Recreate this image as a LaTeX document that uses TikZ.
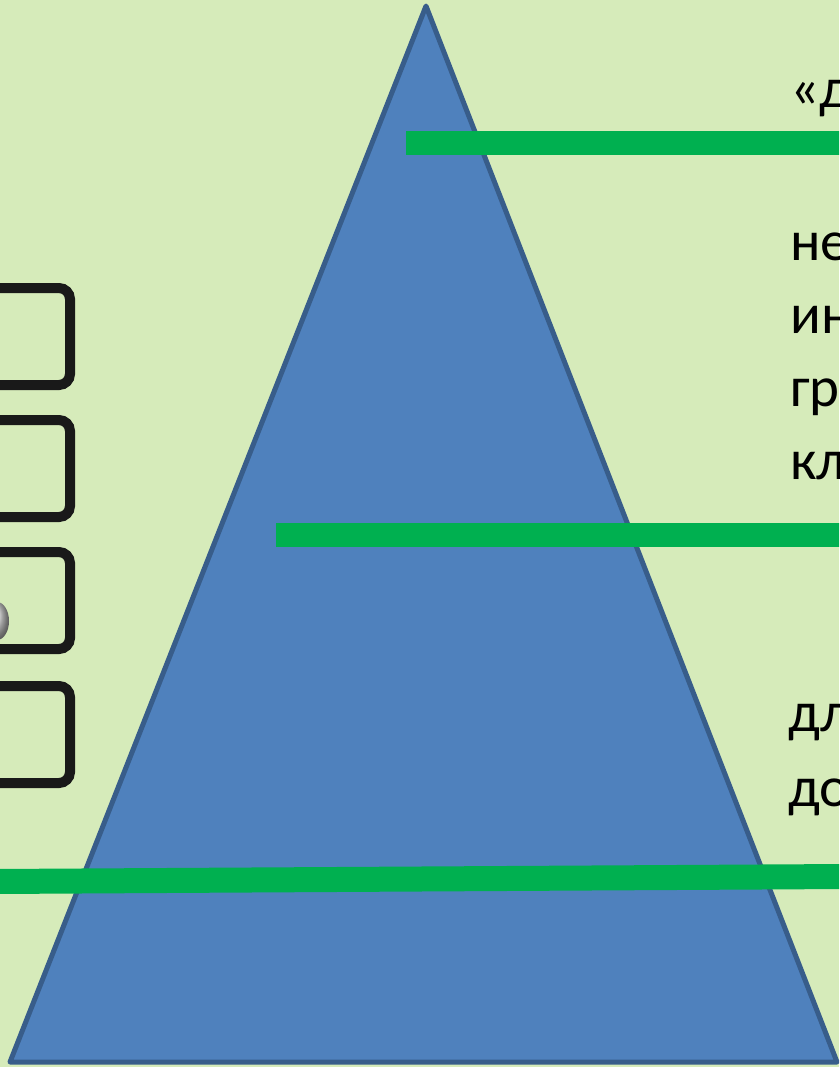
\documentclass[tikz,border=0pt]{standalone}
\usepackage{fontspec}
\setmainfont{Carlito}
\usepackage{tikz}
\usetikzlibrary{positioning,calc}
\definecolor{leafbg}{RGB}{214,235,186}
\definecolor{pyrfill}{RGB}{79,129,189}
\definecolor{pyredge}{RGB}{56,93,138}
\definecolor{barline}{RGB}{0,176,80}
\tikzstyle{pyramid}=[fill=pyrfill,draw=pyredge,line width=5pt,line join=round]
\tikzstyle{bar}=[draw=barline,line width=24pt]
\tikzstyle{tiertext}=[anchor=base west,inner sep=0pt,font=\fontsize{57}{57}\selectfont]
\tikzstyle{checkbox}=[draw=black!90,line width=10pt,rounded corners=11pt]

\begin{document}
\begin{tikzpicture}[x=1pt,y=-1pt]
\useasboundingbox (0,0) rectangle (839,1067);
\clip (0,0) rectangle (839,1067);
\fill[leafbg] (0,0) rectangle (839,1067);
% boxes on the left
\foreach \t in {288,420,552,686}
  \draw[checkbox] (-40,\t) rectangle (70,\t+97);
\shade[ball color=gray!25] (-3,621) ellipse (12 and 19);
% pyramid
\coordinate (apex) at (426,6);
\coordinate (baseW) at (10,1062);
\coordinate (baseE) at (837,1062);
\draw[pyramid] (apex) -- (baseE) -- (baseW) -- cycle;
% bars
\coordinate (bar1w) at (406,143);
\coordinate (bar1e) at (845,143);
\coordinate (bar2w) at (276,535);
\coordinate (bar2e) at (845,535);
\coordinate (bar3w) at (-5,881.5);
\coordinate (bar3e) at (845,876.5);
\draw[bar] (bar1w) -- (bar1e);
\draw[bar] (bar2w) -- (bar2e);
\draw[bar,line width=25pt] (bar3w) -- (bar3e);
% texts
\node[tiertext] (top) at (790,108) {«д};
\node[tiertext] (mid1) at (790,260) {не};
\node[tiertext] (mid2) at (790,333) {ин};
\node[tiertext] (mid3) at (790,406) {гр};
\node[tiertext] (mid4) at (790,479) {кл};
\node[tiertext] (low1) at (788,731) {дл};
\node[tiertext] (low2) at (788,806) {до};
\end{tikzpicture}
\end{document}
